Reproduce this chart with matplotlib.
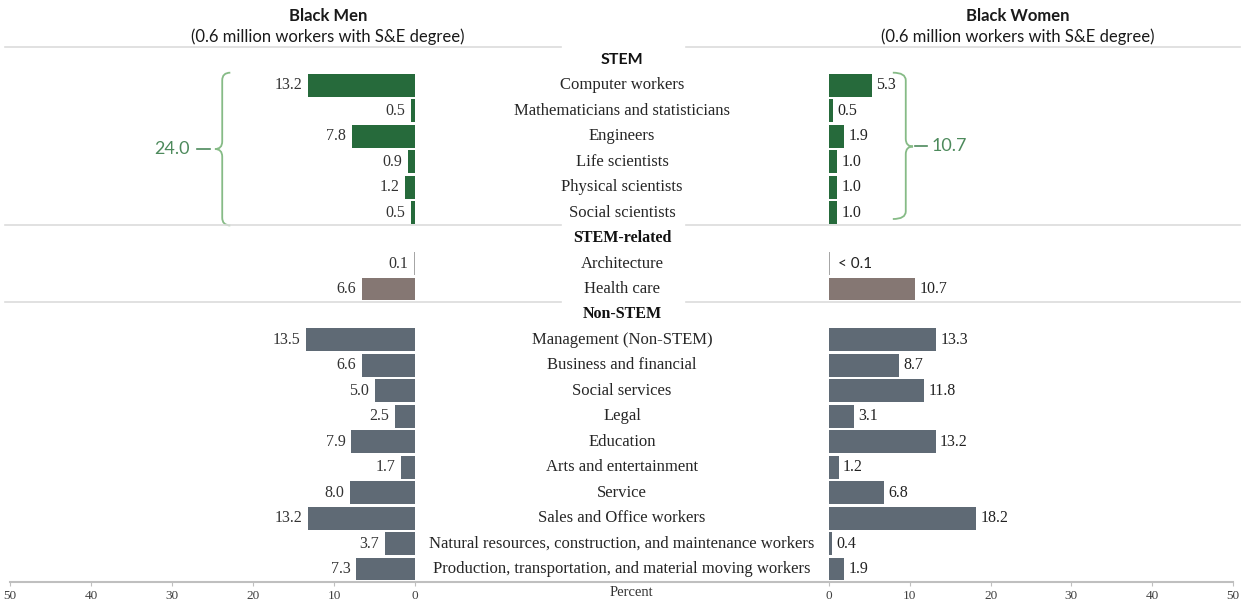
import matplotlib.pyplot as plt
from matplotlib.path import Path
from matplotlib.patches import PathPatch
from matplotlib.lines import Line2D
import matplotlib.transforms as mtransforms

# rows top to bottom; None marks a section header row
categories = ["STEM", "Computer workers", "Mathematicians and statisticians", "Engineers",
              "Life scientists", "Physical scientists", "Social scientists",
              "STEM-related", "Architecture", "Health care",
              "Non-STEM", "Management (Non-STEM)", "Business and financial", "Social services",
              "Legal", "Education", "Arts and entertainment", "Service",
              "Sales and Office workers", "Natural resources, construction, and maintenance workers",
              "Production, transportation, and material moving workers"]
headers = {"STEM", "STEM-related", "Non-STEM"}

men = [None, 13.2, 0.5, 7.8, 0.9, 1.2, 0.5,
       None, 0.1, 6.6,
       None, 13.5, 6.6, 5.0, 2.5, 7.9, 1.7, 8.0, 13.2, 3.7, 7.3]
women = [None, 5.3, 0.5, 1.9, 1.0, 1.0, 1.0,
         None, 0.08, 10.7,
         None, 13.3, 8.7, 11.8, 3.1, 13.2, 1.2, 6.8, 18.2, 0.4, 1.9]
women_labels = [None, "5.3", "0.5", "1.9", "1.0", "1.0", "1.0",
                None, "< 0.1", "10.7",
                None, "13.3", "8.7", "11.8", "3.1", "13.2", "1.2", "6.8", "18.2", "0.4", "1.9"]
group = ["stem"] * 7 + ["rel"] * 3 + ["non"] * 11

men_stem_total = 24.0
women_stem_total = 10.7
ticks = [0, 10, 20, 30, 40, 50]

colors = {"stem": "#266a3b", "rel": "#857773", "non": "#5f6a75"}
serif = "Liberation Serif"
sans = "Lato"

W, H = 1246, 603
fig = plt.figure(figsize=(W / 100, H / 100), dpi=100)

bottom = 1 - 581.7 / H
height = (581.7 - 34.5) / H
axL = fig.add_axes([10 / W, bottom, 405 / W, height])
axR = fig.add_axes([829 / W, bottom, 404 / W, height])

for ax in (axL, axR):
    ax.set_xlim(0, 50)
    ax.set_ylim(20.5, -1.0)
    for s in ax.spines.values():
        s.set_visible(False)
    ax.set_yticks([])
    ax.set_xticks(ticks)
    ax.tick_params(axis="x", length=3, color="#bfbfbf", labelsize=9.5,
                   labelcolor="#404040", pad=3)
    for lab in ax.get_xticklabels():
        lab.set_fontfamily(serif)
axL.invert_xaxis()

rows = list(range(len(categories)))
for i in rows:
    if men[i] is None:
        continue
    c = colors[group[i]] if i != 8 else "#a6a6a6"
    axL.barh(i, men[i], height=0.9, color=c)
    axR.barh(i, women[i], height=0.9, color=c)
    axL.annotate(f"{men[i]:.1f}", (men[i], i), xytext=(-4, 0), textcoords="offset points",
                 ha="right", va="center", fontsize=11.5, family=serif, color="#333333")
    wl = women_labels[i]
    small = wl.startswith("<")
    axR.annotate(wl, (women[i], i), xytext=(6 if small else 3, 0), textcoords="offset points",
                 ha="left", va="center", fontsize=11 if small else 11.5,
                 family=sans if small else serif, color="#222222")

# category labels in the middle
tr = mtransforms.blended_transform_factory(fig.transFigure, axL.transData)
cx = 622 / W
for i, cat in enumerate(categories):
    if cat in headers:
        fam = sans if cat == "STEM" else serif
        fig.text(cx, i, cat, transform=tr, ha="center", va="center", fontsize=11.5,
                 fontweight="bold", family=fam, color="#111111")
    else:
        fig.text(cx, i, cat, transform=tr, ha="center", va="center", fontsize=12,
                 family=serif, color="#262626")

# separator lines
for y in (-0.5, 6.5, 9.5):
    fig.add_artist(Line2D([5 / W, 561 / W], [y, y], transform=tr, color="#dcdcdc", lw=1.2))
    fig.add_artist(Line2D([686 / W, 1240 / W], [y, y], transform=tr, color="#dcdcdc", lw=1.2))

# bottom axis line
fig.add_artist(Line2D([10 / W, 1233 / W], [20.5, 20.5], transform=tr, color="#bfbfbf", lw=1.5))
fig.text(631 / W, 1 - 593 / H, "Percent", ha="center", va="center", fontsize=10.5,
         family=serif, color="#333333")

# titles
for x, name in ((328, "Black Men"), (1018, "Black Women")):
    fig.text(x / W, 1 - 16 / H, name, ha="center", va="center", fontsize=12,
             fontweight="bold", family=sans, color="#1a1a1a")
    fig.text(x / W, 1 - 37 / H, "(0.6 million workers with S&E degree)", ha="center",
             va="center", fontsize=12, family=sans, color="#1a1a1a")


def bracket(ax, xv, hook, tip, y0, y1, ym, r=0.3):
    verts = [(hook, y0), (xv, y0), (xv, y0 + r), (xv, ym - r), (xv, ym), (tip, ym),
             (xv, ym), (xv, ym + r), (xv, y1 - r), (xv, y1), (hook, y1)]
    codes = [Path.MOVETO, Path.CURVE3, Path.CURVE3, Path.LINETO, Path.CURVE3, Path.CURVE3,
             Path.CURVE3, Path.CURVE3, Path.LINETO, Path.CURVE3, Path.CURVE3]
    ax.add_patch(PathPatch(Path(verts, codes), fill=False, edgecolor="#86bb86", lw=1.3,
                           clip_on=False))


green_txt = "#4d8a5c"
bracket(axL, 23.8, 22.8, 24.7, 0.5, 6.5, 3.5)
axL.plot([25.3, 26.9], [3.5, 3.5], color=green_txt, lw=1.2, clip_on=False)
axL.text(27.8, 3.5, f"{men_stem_total:.1f}", ha="right", va="center", fontsize=13,
         family=sans, color=green_txt)

bracket(axR, 9.5, 7.9, 10.4, 0.5, 6.25, 3.4)
axR.plot([10.6, 12.1], [3.4, 3.4], color=green_txt, lw=1.2, clip_on=False)
axR.text(12.7, 3.4, f"{women_stem_total:.1f}", ha="left", va="center", fontsize=13,
         family=sans, color=green_txt)

fig.savefig("out.png", dpi=100)
